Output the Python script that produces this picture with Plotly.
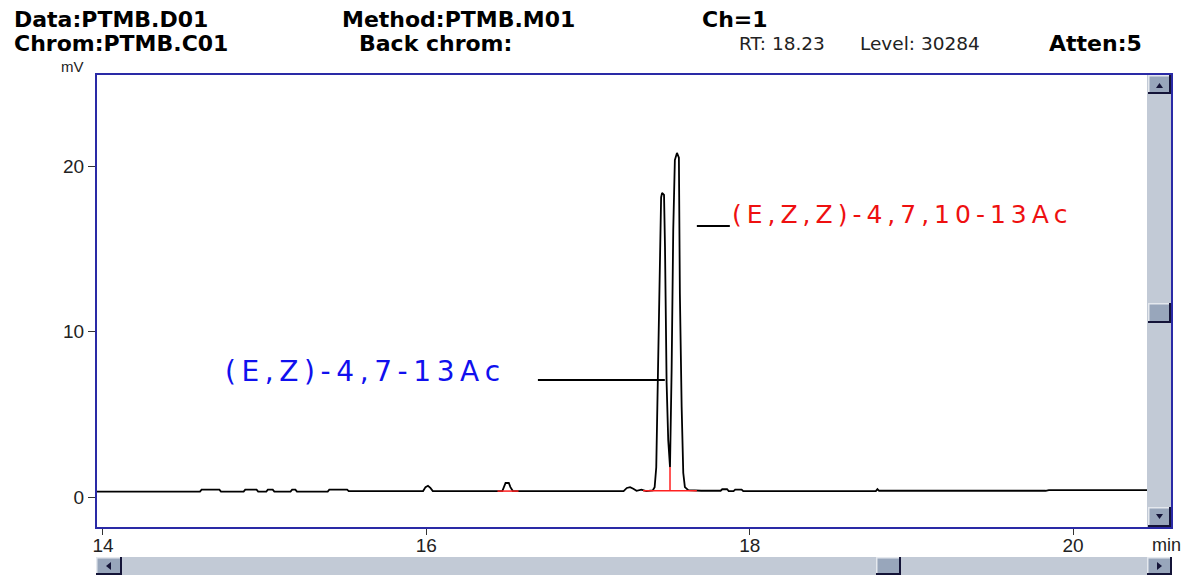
import plotly.graph_objects as go

# ---- data ----
time_min = [13.957, 14.60, 14.61, 14.72, 14.73, 14.87, 14.88, 14.95, 14.96, 15.01, 15.02, 15.05, 15.06,
            15.16, 15.17, 15.19, 15.20, 15.39, 15.40, 15.51, 15.52,
            15.98, 15.995, 16.01, 16.025, 16.04,
            16.47, 16.48, 16.49, 16.51, 16.52, 16.535,
            17.22, 17.24, 17.26, 17.28, 17.30, 17.33, 17.36,
            17.40, 17.412, 17.422, 17.432, 17.440, 17.452, 17.458, 17.470, 17.476, 17.486, 17.496, 17.507,
            17.517, 17.527, 17.537, 17.550, 17.562, 17.568, 17.579, 17.589, 17.599, 17.62, 17.70,
            17.82, 17.83, 17.86, 17.87, 17.90, 17.91, 17.95, 17.96,
            18.78, 18.79, 18.80,
            19.83, 19.85, 20.457]
signal_mV = [0.33, 0.33, 0.45, 0.45, 0.33, 0.33, 0.45, 0.45, 0.33, 0.33, 0.45, 0.45, 0.33,
             0.33, 0.45, 0.45, 0.33, 0.33, 0.45, 0.45, 0.36,
             0.36, 0.60, 0.68, 0.55, 0.36,
             0.36, 0.60, 0.85, 0.85, 0.60, 0.36,
             0.36, 0.55, 0.60, 0.50, 0.38, 0.45, 0.36,
             0.40, 0.60, 1.80, 6.89, 12.93, 18.10, 18.37, 18.25, 15.10, 6.90, 3.44, 1.81,
             7.67, 16.13, 20.36, 20.79, 20.50, 12.33, 5.44, 1.45, 0.60, 0.42, 0.38,
             0.38, 0.47, 0.47, 0.36, 0.36, 0.45, 0.45, 0.36,
             0.36, 0.48, 0.38,
             0.38, 0.42, 0.42]

# integration baselines (red) and the drop line between the two main peaks
baseline_start = [16.44, 17.34]
baseline_end = [16.57, 17.673]
baseline_level = [0.36, 0.38]
drop_time = 17.507
drop_top = 1.81

# peak labels and their leader lines
label_texts = ["(E,Z)-4,7-13Ac", "(E,Z,Z)-4,7,10-13Ac"]
label_colors = ["#1010ee", "#ee1010"]
label_x = [14.742, 17.877]
label_y = [7.61, 17.1]
label_sizes = [28, 25]
leader_x0 = [16.69, 17.673]
leader_x1 = [17.475, 17.877]
leader_y = [7.07, 16.37]

x_ticks = [14, 16, 18, 20]
y_ticks = [0, 10, 20]
x_range = [13.957, 20.457]
y_range = [-1.87, 25.56]

header_bold = [("Data:PTMB.D01", 12, 20), ("Method:PTMB.M01", 340, 20), ("Ch=1", 700, 20),
               ("Chrom:PTMB.C01", 12, 43), ("Back chrom:", 357, 43), ("Atten:5", 1047, 43)]
header_plain = [("RT: 18.23", 737, 43), ("Level: 30284", 858, 43)]

# ---- layout helpers (pixel -> paper) ----
W, H = 1188, 575
L, R, T, B = 96, 1147, 74, 528


def px(x):
    return (x - L) / (R - L)


def py(y):
    return 1 - (y - T) / (B - T)


def spaced(s):
    return "\u2009".join(list(s))


fig = go.Figure()

fig.add_trace(go.Scatter(x=time_min, y=signal_mV, mode="lines",
                         line=dict(color="black", width=1.8), hoverinfo="skip"))

for s, e, lv in zip(baseline_start, baseline_end, baseline_level):
    fig.add_trace(go.Scatter(x=[s, e], y=[lv, lv], mode="lines",
                             line=dict(color="#ff2020", width=1.5), hoverinfo="skip"))
fig.add_trace(go.Scatter(x=[drop_time, drop_time], y=[baseline_level[1], drop_top], mode="lines",
                         line=dict(color="#ff2020", width=1.5), hoverinfo="skip"))

for x0, x1, yy in zip(leader_x0, leader_x1, leader_y):
    fig.add_trace(go.Scatter(x=[x0, x1], y=[yy, yy], mode="lines",
                             line=dict(color="black", width=2), hoverinfo="skip"))

annotations = []
for t, c, x, y, s in zip(label_texts, label_colors, label_x, label_y, label_sizes):
    annotations.append(dict(x=x, y=y, xref="x", yref="y", text=spaced(t), showarrow=False,
                            xanchor="left", yanchor="middle",
                            font=dict(family="DejaVu Sans", size=s, color=c)))

for t, x, y in header_bold:
    annotations.append(dict(x=px(x), y=py(y), xref="paper", yref="paper", text="<b>" + t + "</b>",
                            showarrow=False, xanchor="left", yanchor="middle",
                            font=dict(family="DejaVu Sans", size=22, color="black")))
for t, x, y in header_plain:
    annotations.append(dict(x=px(x), y=py(y), xref="paper", yref="paper", text=t,
                            showarrow=False, xanchor="left", yanchor="middle",
                            font=dict(family="DejaVu Sans", size=18.5, color="#222")))

annotations.append(dict(x=px(72), y=py(66), xref="paper", yref="paper", text="mV", showarrow=False,
                        xanchor="center", yanchor="middle",
                        font=dict(family="Liberation Sans", size=15, color="#222")))
annotations.append(dict(x=px(1166), y=py(545), xref="paper", yref="paper", text="min", showarrow=False,
                        xanchor="center", yanchor="middle",
                        font=dict(family="Liberation Sans", size=18, color="#222")))

shapes = []
track = "#c2cad6"
face = "#98a6bb"
dark = "#141438"
light = "#e4e8ee"


def rect(x0, y0, x1, y1, fill, line=None, lw=0):
    shapes.append(dict(type="rect", xref="paper", yref="paper", x0=px(x0), x1=px(x1),
                       y0=py(y1), y1=py(y0), fillcolor=fill,
                       line=dict(color=line or fill, width=lw), layer="above"))


def button(x0, y0, x1, y1):
    rect(x0, y0, x1, y1, face)
    rect(x0, y0, x1, y0 + 1.5, light)
    rect(x0, y0, x0 + 1.5, y1, light)
    rect(x1 - 2, y0, x1, y1, dark)
    rect(x0, y1 - 2, x1, y1, dark)


def tri(points):
    d = "M " + " L ".join(f"{px(a)},{py(b)}" for a, b in points) + " Z"
    shapes.append(dict(type="path", xref="paper", yref="paper", path=d, fillcolor=dark,
                       line=dict(color=dark, width=0), layer="above"))


# vertical scrollbar inside frame
rect(1147, 74, 1172, 528, track)
button(1148, 75, 1171, 94)
button(1148, 303, 1171, 323)
button(1148, 507, 1171, 527)
tri([(1156, 88), (1163, 88), (1159.5, 83)])
tri([(1156, 514), (1163, 514), (1159.5, 519)])

# horizontal scrollbar
rect(96, 557, 1172, 575, track)
button(96, 557, 122, 575)
button(876, 557, 901, 575)
button(1147, 557, 1172, 575)
tri([(111, 562), (111, 570), (106, 566)])
tri([(1157, 562), (1157, 570), (1162, 566)])

# plot frame
shapes.append(dict(type="rect", xref="paper", yref="paper", x0=px(96), x1=px(1172), y0=py(528), y1=py(74),
                   line=dict(color="#2a2aa6", width=2), fillcolor="rgba(0,0,0,0)", layer="above"))

fig.update_layout(
    width=W, height=H,
    margin=dict(l=L, r=W - R, t=T, b=H - B, pad=0),
    paper_bgcolor="white", plot_bgcolor="white",
    showlegend=False,
    annotations=annotations,
    shapes=shapes,
    xaxis=dict(range=x_range, tickvals=x_ticks, ticktext=[str(v) for v in x_ticks],
               showgrid=False, zeroline=False, showline=False,
               ticks="outside", ticklen=6, tickcolor="#333", tickwidth=1,
               ticklabelstandoff=-6,
               tickfont=dict(family="Liberation Sans", size=19, color="#222")),
    yaxis=dict(range=y_range, tickvals=y_ticks, ticktext=[str(v) for v in y_ticks],
               showgrid=False, zeroline=False, showline=False,
               ticks="outside", ticklen=7, tickcolor="#333", tickwidth=1,
               tickfont=dict(family="Liberation Sans", size=19, color="#222")),
)

fig.write_html("out.html", config={"displayModeBar": False},
               post_script="document.body.style.margin='0px';document.body.style.overflow='hidden';")
